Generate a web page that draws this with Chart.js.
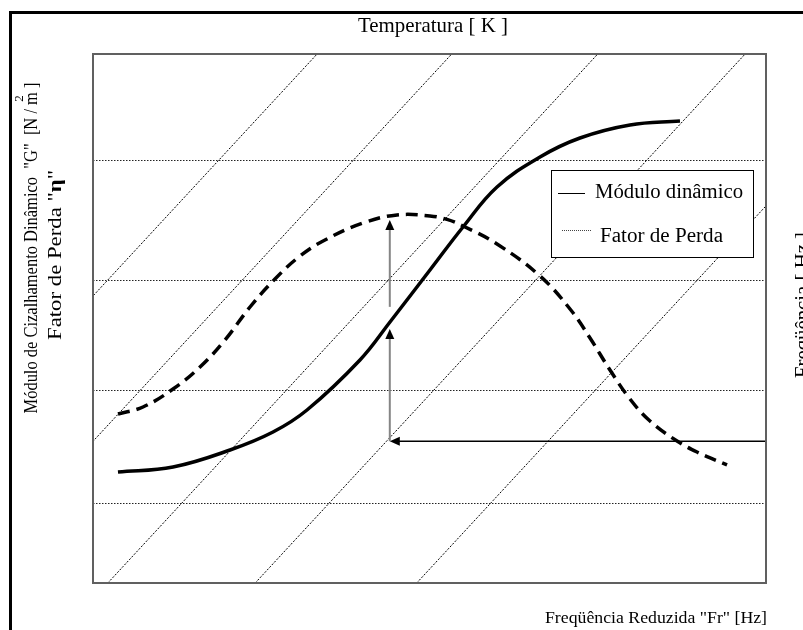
<!DOCTYPE html>
<html>
<head>
<meta charset="utf-8">
<script src="https://cdn.jsdelivr.net/npm/chart.js@4/dist/chart.umd.min.js"></script>
<style>
html,body{margin:0;padding:0;background:#fff;overflow:hidden}
canvas{display:block}
</style>
</head>
<body>
<canvas id="c" width="803" height="630"></canvas>
<script>
// ---- DATA (x = reduced frequency, y = value; both as % of the schematic axes) ----
// Módulo dinâmico (solid curve)
const moduloX = [3.71, 11.89, 20.36, 26.75, 31.80, 39.67, 44.13, 50.07, 54.98, 60.03, 66.42, 72.36, 79.79, 87.22];
const moduloY = [20.98, 21.93, 25.14, 28.54, 32.70, 42.16, 49.34, 59.17, 67.30, 74.86, 80.53, 84.12, 86.58, 87.33];
// Fator de Perda (dashed curve)
const perdaX = [3.71, 7.43, 11.89, 15.90, 19.61, 23.33, 27.04, 30.76, 34.47, 40.12, 45.17, 50.07, 52.60, 54.98, 60.03, 66.42, 70.88, 73.85, 76.82, 79.79, 82.76, 86.78, 89.75, 94.21];
const perdaY = [31.95, 33.27, 36.67, 40.83, 45.94, 52.17, 57.47, 61.81, 64.84, 68.05, 69.57, 69.38, 68.73, 67.49, 64.08, 58.03, 51.80, 46.31, 40.26, 34.78, 30.62, 26.84, 24.76, 22.31];
// Temperature (isotherm) lines: x where each line meets y = 0 and y = 100
const isoBottomX = [-39.5, -19.5, 2.2, 24.1, 48.1];
const isoTopX = [33.3, 53.3, 75.0, 96.9, 120.9];
const isoBottomY = 0;
const isoTopY = 100;
// Horizontal reference (grid) levels
const gridY = [15.1, 36.3, 57.1, 79.8];
// Reading arrows (start -> end)
const arrowStartX = [100, 44.1, 44.1];
const arrowStartY = [26.8, 26.8, 52.2];
const arrowEndX = [44.1, 44.1, 44.1];
const arrowEndY = [26.8, 48.0, 68.6];
// Texts
const legendLabels = ["Módulo dinâmico", "Fator de Perda"];
const topTitle = "Temperatura [ K ]";
const bottomTitle = "Freqüência Reduzida \"Fr\" [Hz]";
const leftTitle = "Módulo de Cizalhamento Dinâmico  \"G\"  [N / m ]";
const leftTitleSup = "2";
const leftTitle2a = "Fator de Perda \"";
const leftTitle2b = "η";
const leftTitle2c = "\"";
const rightTitle = "Freqüência [ Hz ]";

const SERIF = '"Liberation Serif", "Times New Roman", serif';

function pts(xs, ys) { return xs.map((x, i) => ({ x: x, y: ys[i] })); }

const datasets = [
  {
    label: legendLabels[0],
    data: pts(moduloX, moduloY),
    borderColor: '#000', borderWidth: 3.5, pointRadius: 0,
    tension: 0.4, fill: false
  },
  {
    label: legendLabels[1],
    data: pts(perdaX, perdaY),
    borderColor: '#000', borderWidth: 3.5, pointRadius: 0,
    borderDash: [12, 7], borderCapStyle: 'butt',
    tension: 0.4, fill: false
  }
];
isoBottomX.forEach((bx, i) => {
  datasets.push({
    label: 'iso' + i,
    data: [{ x: bx, y: isoBottomY }, { x: isoTopX[i], y: isoTopY }],
    borderColor: '#000', borderWidth: 1, pointRadius: 0,
    borderDash: [2, 1.5], fill: false, tension: 0
  });
});

function fitText(ctx, parts, x, y, len, angle, align) {
  ctx.save();
  ctx.translate(x, y);
  ctx.rotate(angle);
  let total = 0;
  parts.forEach(p => { ctx.font = p.font; p.w = ctx.measureText(p.t).width; total += p.w; });
  const s = len / total;
  ctx.scale(s, 1);
  let cx = align === 'left' ? 0 : -total / 2;
  ctx.textAlign = 'left';
  ctx.textBaseline = 'alphabetic';
  ctx.fillStyle = '#000';
  parts.forEach(p => { ctx.font = p.font; ctx.fillText(p.t, cx, 0); cx += p.w; });
  ctx.restore();
  return { s: s, total: total };
}

const decor = {
  id: 'decor',
  beforeDraw(chart) {
    const ctx = chart.ctx;
    ctx.save();
    ctx.fillStyle = '#fff';
    ctx.fillRect(0, 0, chart.width, chart.height);
    // outer frame
    ctx.fillStyle = '#000';
    ctx.fillRect(9, 11, chart.width - 9, 3);
    ctx.fillRect(9, 11, 3, chart.height - 11);
    ctx.restore();
  },
  afterDatasetsDraw(chart) {
    const ctx = chart.ctx;
    const xs = chart.scales.x, ys = chart.scales.y;
    const a = chart.chartArea;
    ctx.save();
    // arrows
    for (let i = 0; i < arrowStartX.length; i++) {
      const x1 = xs.getPixelForValue(arrowStartX[i]), y1 = ys.getPixelForValue(arrowStartY[i]);
      const x2 = xs.getPixelForValue(arrowEndX[i]), y2 = ys.getPixelForValue(arrowEndY[i]);
      const ang = Math.atan2(y2 - y1, x2 - x1);
      const L = 10, W = 4.5;
      const horiz = Math.abs(y2 - y1) < 1;
      ctx.strokeStyle = horiz ? '#000' : '#858585';
      ctx.lineWidth = horiz ? 1.5 : 2;
      ctx.setLineDash([]);
      ctx.beginPath();
      ctx.moveTo(x1, y1);
      ctx.lineTo(x2 - Math.cos(ang) * L * 0.8, y2 - Math.sin(ang) * L * 0.8);
      ctx.stroke();
      ctx.fillStyle = '#000';
      ctx.beginPath();
      ctx.moveTo(x2, y2);
      ctx.lineTo(x2 - Math.cos(ang) * L - Math.sin(ang) * W, y2 - Math.sin(ang) * L + Math.cos(ang) * W);
      ctx.lineTo(x2 - Math.cos(ang) * L + Math.sin(ang) * W, y2 - Math.sin(ang) * L - Math.cos(ang) * W);
      ctx.closePath();
      ctx.fill();
    }
    // legend box
    const lx = 551, ly = 170, lw = 202, lh = 87;
    ctx.fillStyle = '#fff';
    ctx.fillRect(lx, ly, lw, lh);
    ctx.strokeStyle = '#000';
    ctx.lineWidth = 1;
    ctx.strokeRect(lx + 0.5, ly + 0.5, lw, lh);
    ctx.beginPath();
    ctx.moveTo(558, 193.5); ctx.lineTo(585, 193.5);
    ctx.stroke();
    ctx.strokeStyle = '#444';
    ctx.setLineDash([1, 1]);
    ctx.beginPath();
    ctx.moveTo(562, 230.5); ctx.lineTo(591, 230.5);
    ctx.stroke();
    ctx.setLineDash([]);
    ctx.restore();
    fitText(ctx, [{ t: legendLabels[0], font: '20px ' + SERIF }], 595, 198, 148, 0, 'left');
    fitText(ctx, [{ t: legendLabels[1], font: '20px ' + SERIF }], 600, 242, 123, 0, 'left');
    // plot frame
    ctx.save();
    ctx.strokeStyle = '#606060';
    ctx.lineWidth = 2;
    ctx.strokeRect(a.left, a.top, a.right - a.left, a.bottom - a.top);
    ctx.restore();
  },
  afterDraw(chart) {
    const ctx = chart.ctx;
    fitText(ctx, [{ t: topTitle, font: '21px ' + SERIF }], 433, 32, 150, 0, 'center');
    fitText(ctx, [{ t: bottomTitle, font: '16px ' + SERIF }], 545, 623, 222, 0, 'left');
    // left title with superscript over "m"
    const f1 = '19px ' + SERIF;
    const r = fitText(ctx, [{ t: leftTitle, font: f1 }], 37, 248, 331, -Math.PI / 2, 'center');
    ctx.save();
    ctx.font = f1;
    const pre = ctx.measureText(leftTitle.slice(0, leftTitle.lastIndexOf('m'))).width;
    const mw = ctx.measureText('m').width;
    const along = (-r.total / 2 + pre + mw / 2) * r.s;
    ctx.translate(37, 248);
    ctx.rotate(-Math.PI / 2);
    ctx.font = '13px ' + SERIF;
    ctx.textAlign = 'center';
    ctx.fillStyle = '#000';
    ctx.fillText(leftTitleSup, along, -14);
    ctx.restore();
    // second left title
    fitText(ctx, [
      { t: leftTitle2a, font: '18px ' + SERIF },
      { t: leftTitle2b, font: 'bold 18px ' + SERIF },
      { t: leftTitle2c, font: '18px ' + SERIF }
    ], 61, 255, 170, -Math.PI / 2, 'center');
    // right title (partly outside the picture)
    fitText(ctx, [{ t: rightTitle, font: '20px ' + SERIF }], 809, 305, 146, -Math.PI / 2, 'center');
  }
};

new Chart(document.getElementById('c'), {
  type: 'line',
  data: { datasets: datasets },
  options: {
    responsive: false,
    animation: false,
    devicePixelRatio: 1,
    layout: { padding: { left: 93, right: 37, top: 54, bottom: 47 } },
    plugins: { legend: { display: false }, tooltip: { enabled: false } },
    scales: {
      x: { type: 'linear', min: 0, max: 100, display: false },
      y: {
        type: 'linear', min: 0, max: 100, display: true,
        afterBuildTicks: s => { s.ticks = gridY.map(v => ({ value: v })); },
        afterFit: s => { s.width = 0; },
        ticks: { display: false },
        grid: { color: '#222', lineWidth: 1, drawTicks: false },
        border: { display: false, dash: [1.5, 1.5] }
      }
    }
  },
  plugins: [decor]
});
</script>
</body>
</html>
